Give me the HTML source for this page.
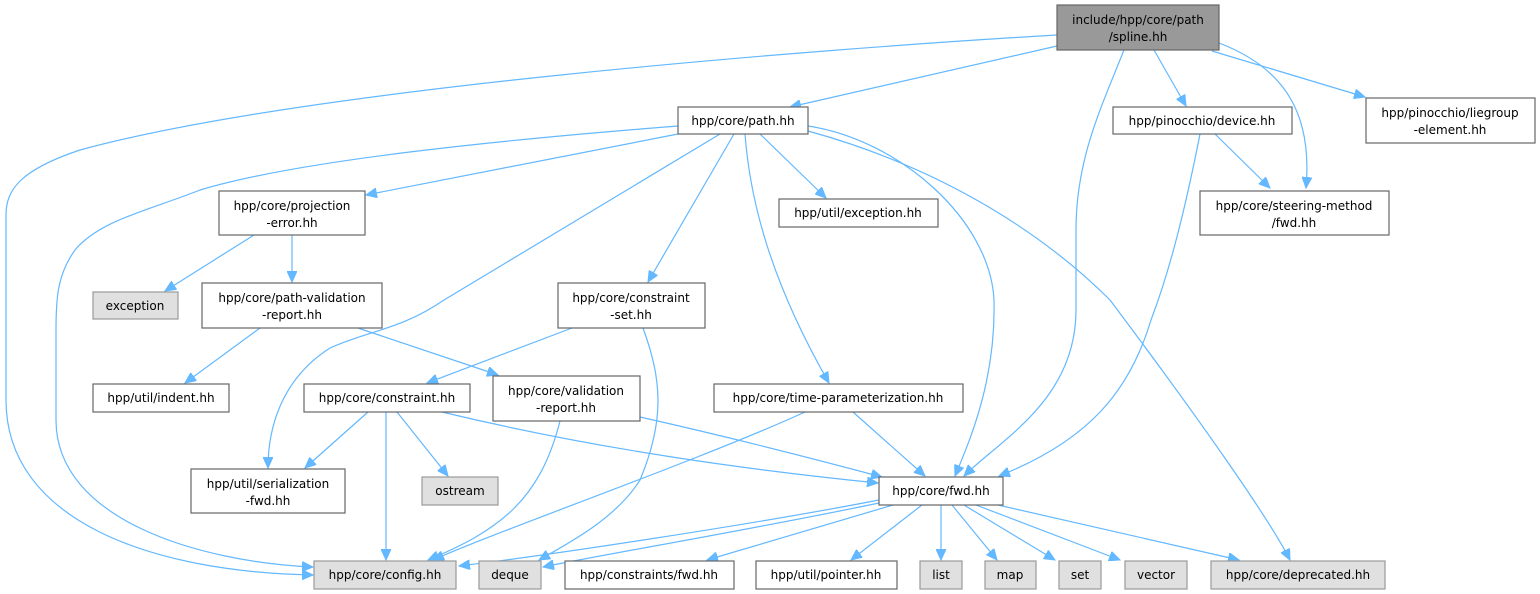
<!DOCTYPE html>
<html><head><meta charset="utf-8"><style>
html,body{margin:0;padding:0;background:#fff;}
svg{display:block;}
text{font-family:"DejaVu Sans","Liberation Sans",sans-serif;font-size:12px;fill:#000;}
.n{fill:#fff;stroke:#666;stroke-width:1.2;}
.g{fill:#e0e0e0;stroke:#999;stroke-width:1.2;}
.m{fill:#999;stroke:#666;stroke-width:1.2;}
.e{fill:none;stroke:#63b8ff;stroke-width:1.2;}
</style></head><body>
<svg width="1540" height="594" viewBox="0 0 1540 594" xmlns="http://www.w3.org/2000/svg">
<defs><marker id="a" markerUnits="userSpaceOnUse" markerWidth="12" markerHeight="10" refX="11" refY="5" orient="auto"><path d="M0,0 L11,5 L0,10 z" fill="#63b8ff" stroke="#63b8ff"/></marker></defs>
<g marker-end="url(#a)">
<path class="e" d="M1057,35 C800,50 300,90 80,150 C20,170 6,190 6,215 L6,400 C6,520 150,572 313,575"/>
<path class="e" d="M1057,46 L790,107"/>
<path class="e" d="M1124,50 C1100,110 1076,160 1076,230 L1076,310 C1076,400 1000,440 964,476"/>
<path class="e" d="M1154,50 L1186,106"/>
<path class="e" d="M1219,43 C1290,70 1312,120 1306,188"/>
<path class="e" d="M1212,51 L1365,97"/>
<path class="e" d="M1215,134 L1270,188"/>
<path class="e" d="M1200,134 C1185,210 1170,270 1151,320 C1130,390 1090,440 999,476"/>
<path class="e" d="M678,126 C500,140 300,160 200,190 C150,210 100,220 75,250 C57,275 56,300 56,330 L56,420 C56,520 200,562 313,567"/>
<path class="e" d="M678,134 L366,195"/>
<path class="e" d="M720,134 L444,300 C400,330 370,330 330,348 C280,380 268,430 268,468"/>
<path class="e" d="M734,134 L648,282"/>
<path class="e" d="M745,134 C750,200 770,280 829,383"/>
<path class="e" d="M760,134 L826,198"/>
<path class="e" d="M808,126 C900,140 990,220 994,300 C996,380 970,440 955,476"/>
<path class="e" d="M808,131 C950,170 1050,240 1110,300 C1200,420 1270,520 1290,560"/>
<path class="e" d="M254,235 L165,291"/>
<path class="e" d="M292,235 L292,282"/>
<path class="e" d="M260,328 L185,383"/>
<path class="e" d="M358,328 L498,375"/>
<path class="e" d="M572,328 L427,383"/>
<path class="e" d="M643,328 C662,380 665,420 640,480 C615,520 565,545 539,560"/>
<path class="e" d="M368,412 L305,468"/>
<path class="e" d="M386,412 L386,560"/>
<path class="e" d="M397,412 L448,476"/>
<path class="e" d="M442,412 C600,450 750,470 878,483"/>
<path class="e" d="M560,421 C540,500 500,530 428,560"/>
<path class="e" d="M640,417 C720,435 800,455 882,477"/>
<path class="e" d="M805,412 C700,460 500,530 433,560"/>
<path class="e" d="M853,412 L925,476"/>
<path class="e" d="M879,500 C750,525 550,555 459,566"/>
<path class="e" d="M879,503 C750,530 600,555 543,567"/>
<path class="e" d="M893,505 L707,560"/>
<path class="e" d="M922,505 L851,560"/>
<path class="e" d="M941,505 L941,560"/>
<path class="e" d="M952,505 L997,560"/>
<path class="e" d="M964,505 L1055,560"/>
<path class="e" d="M976,505 L1120,560"/>
<path class="e" d="M998,505 L1239,560"/>
</g>
<g text-anchor="middle">
<rect class="m" x="1057" y="5" width="162" height="45"/><text x="1138" y="24">include/hpp/core/path</text><text x="1138" y="41">/spline.hh</text>
<rect class="n" x="678" y="107" width="130" height="27"/><text x="743" y="125">hpp/core/path.hh</text>
<rect class="n" x="1113" y="107" width="179" height="27"/><text x="1202" y="125">hpp/pinocchio/device.hh</text>
<rect class="n" x="1366" y="98" width="169" height="45"/><text x="1450" y="117">hpp/pinocchio/liegroup</text><text x="1450" y="134">-element.hh</text>
<rect class="n" x="1200" y="191" width="189" height="44"/><text x="1294" y="210">hpp/core/steering-method</text><text x="1294" y="227">/fwd.hh</text>
<rect class="n" x="219" y="191" width="146" height="44"/><text x="292" y="210">hpp/core/projection</text><text x="292" y="227">-error.hh</text>
<rect class="n" x="779" y="199" width="159" height="28"/><text x="858" y="217">hpp/util/exception.hh</text>
<rect class="g" x="93" y="292" width="85" height="27"/><text x="135" y="310">exception</text>
<rect class="n" x="202" y="283" width="180" height="45"/><text x="292" y="302">hpp/core/path-validation</text><text x="292" y="319">-report.hh</text>
<rect class="n" x="558" y="283" width="147" height="45"/><text x="631" y="302">hpp/core/constraint</text><text x="631" y="319">-set.hh</text>
<rect class="n" x="93" y="384" width="136" height="28"/><text x="161" y="402">hpp/util/indent.hh</text>
<rect class="n" x="304" y="384" width="166" height="28"/><text x="387" y="402">hpp/core/constraint.hh</text>
<rect class="n" x="493" y="376" width="147" height="45"/><text x="566" y="395">hpp/core/validation</text><text x="566" y="412">-report.hh</text>
<rect class="n" x="714" y="384" width="249" height="28"/><text x="838" y="402">hpp/core/time-parameterization.hh</text>
<rect class="n" x="191" y="469" width="154" height="44"/><text x="268" y="488">hpp/util/serialization</text><text x="268" y="505">-fwd.hh</text>
<rect class="g" x="422" y="477" width="76" height="28"/><text x="460" y="495">ostream</text>
<rect class="n" x="879" y="477" width="124" height="28"/><text x="941" y="495">hpp/core/fwd.hh</text>
<rect class="g" x="314" y="561" width="142" height="28"/><text x="385" y="579">hpp/core/config.hh</text>
<rect class="g" x="479" y="561" width="62" height="28"/><text x="510" y="579">deque</text>
<rect class="n" x="565" y="561" width="169" height="28"/><text x="649" y="579">hpp/constraints/fwd.hh</text>
<rect class="n" x="756" y="561" width="141" height="28"/><text x="826" y="579">hpp/util/pointer.hh</text>
<rect class="g" x="920" y="561" width="42" height="28"/><text x="941" y="579">list</text>
<rect class="g" x="985" y="561" width="51" height="28"/><text x="1010" y="579">map</text>
<rect class="g" x="1059" y="561" width="42" height="28"/><text x="1080" y="579">set</text>
<rect class="g" x="1125" y="561" width="62" height="28"/><text x="1156" y="579">vector</text>
<rect class="g" x="1211" y="561" width="174" height="28"/><text x="1298" y="579">hpp/core/deprecated.hh</text>
</g>
</svg>
</body></html>
